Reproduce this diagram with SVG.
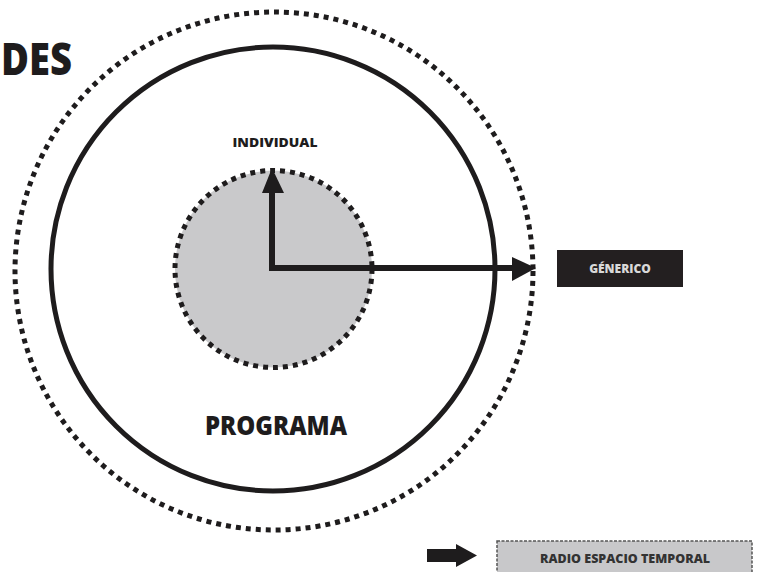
<svg xmlns="http://www.w3.org/2000/svg" width="759" height="572" viewBox="0 0 759 572">
<style>
.t{font-family:"Open Sans","Liberation Sans",sans-serif;font-weight:800}
.dot{fill:none;stroke:#1e1c1d;stroke-width:5;stroke-dasharray:5 5}
</style>
<rect width="759" height="572" fill="#fff"/>
<text class="t" x="1" y="75" font-size="44" fill="#1e1c1d" textLength="71" lengthAdjust="spacingAndGlyphs">DES</text>
<g id="outer">
<circle class="dot" cx="274" cy="271" r="259"/>
</g>
<g id="programa">
<circle cx="273" cy="269" r="222" fill="none" stroke="#1e1c1d" stroke-width="5"/>
<text class="t" x="276" y="435" font-size="27" fill="#1e1c1d" text-anchor="middle" textLength="142" lengthAdjust="spacingAndGlyphs">PROGRAMA</text>
</g>
<g id="inner">
<circle cx="273.5" cy="269" r="98.5" fill="#c9c9cb"/>
<circle class="dot" cx="273.5" cy="269" r="98.5"/>
</g>
<g id="individual">
<text class="t" x="275" y="147" font-size="13" fill="#1e1c1d" text-anchor="middle" textLength="85" lengthAdjust="spacingAndGlyphs">INDIVIDUAL</text>
</g>
<g id="connectors">
<path d="M272,269 L272,192" stroke="#1e1c1d" stroke-width="6" fill="none"/>
<path d="M262,193 L272,168 L284,193 z" fill="#1e1c1d"/>
<path d="M269,268 L514,268" stroke="#1e1c1d" stroke-width="6" fill="none"/>
<path d="M512,257 L536,268 L512,281 z" fill="#1e1c1d"/>
</g>
<g id="generico">
<rect x="557" y="250" width="126" height="37" fill="#231f20"/>
<text class="t" x="620" y="273" font-size="12" fill="#d9d9d9" text-anchor="middle">GÉNERICO</text>
</g>
<g id="legend">
<path d="M427,549 L456,549 L456,544 L477,555.5 L456,567 L456,562 L427,562 z" fill="#1e1c1d"/>
<rect x="497" y="541" width="255" height="32" fill="#c8c8ca" stroke="#555" stroke-width="1.5" stroke-dasharray="3 1.5"/>
<text class="t" x="625" y="563" font-size="12.5" fill="#333" text-anchor="middle" font-weight="bold">RADIO ESPACIO TEMPORAL</text>
</g>
</svg>
